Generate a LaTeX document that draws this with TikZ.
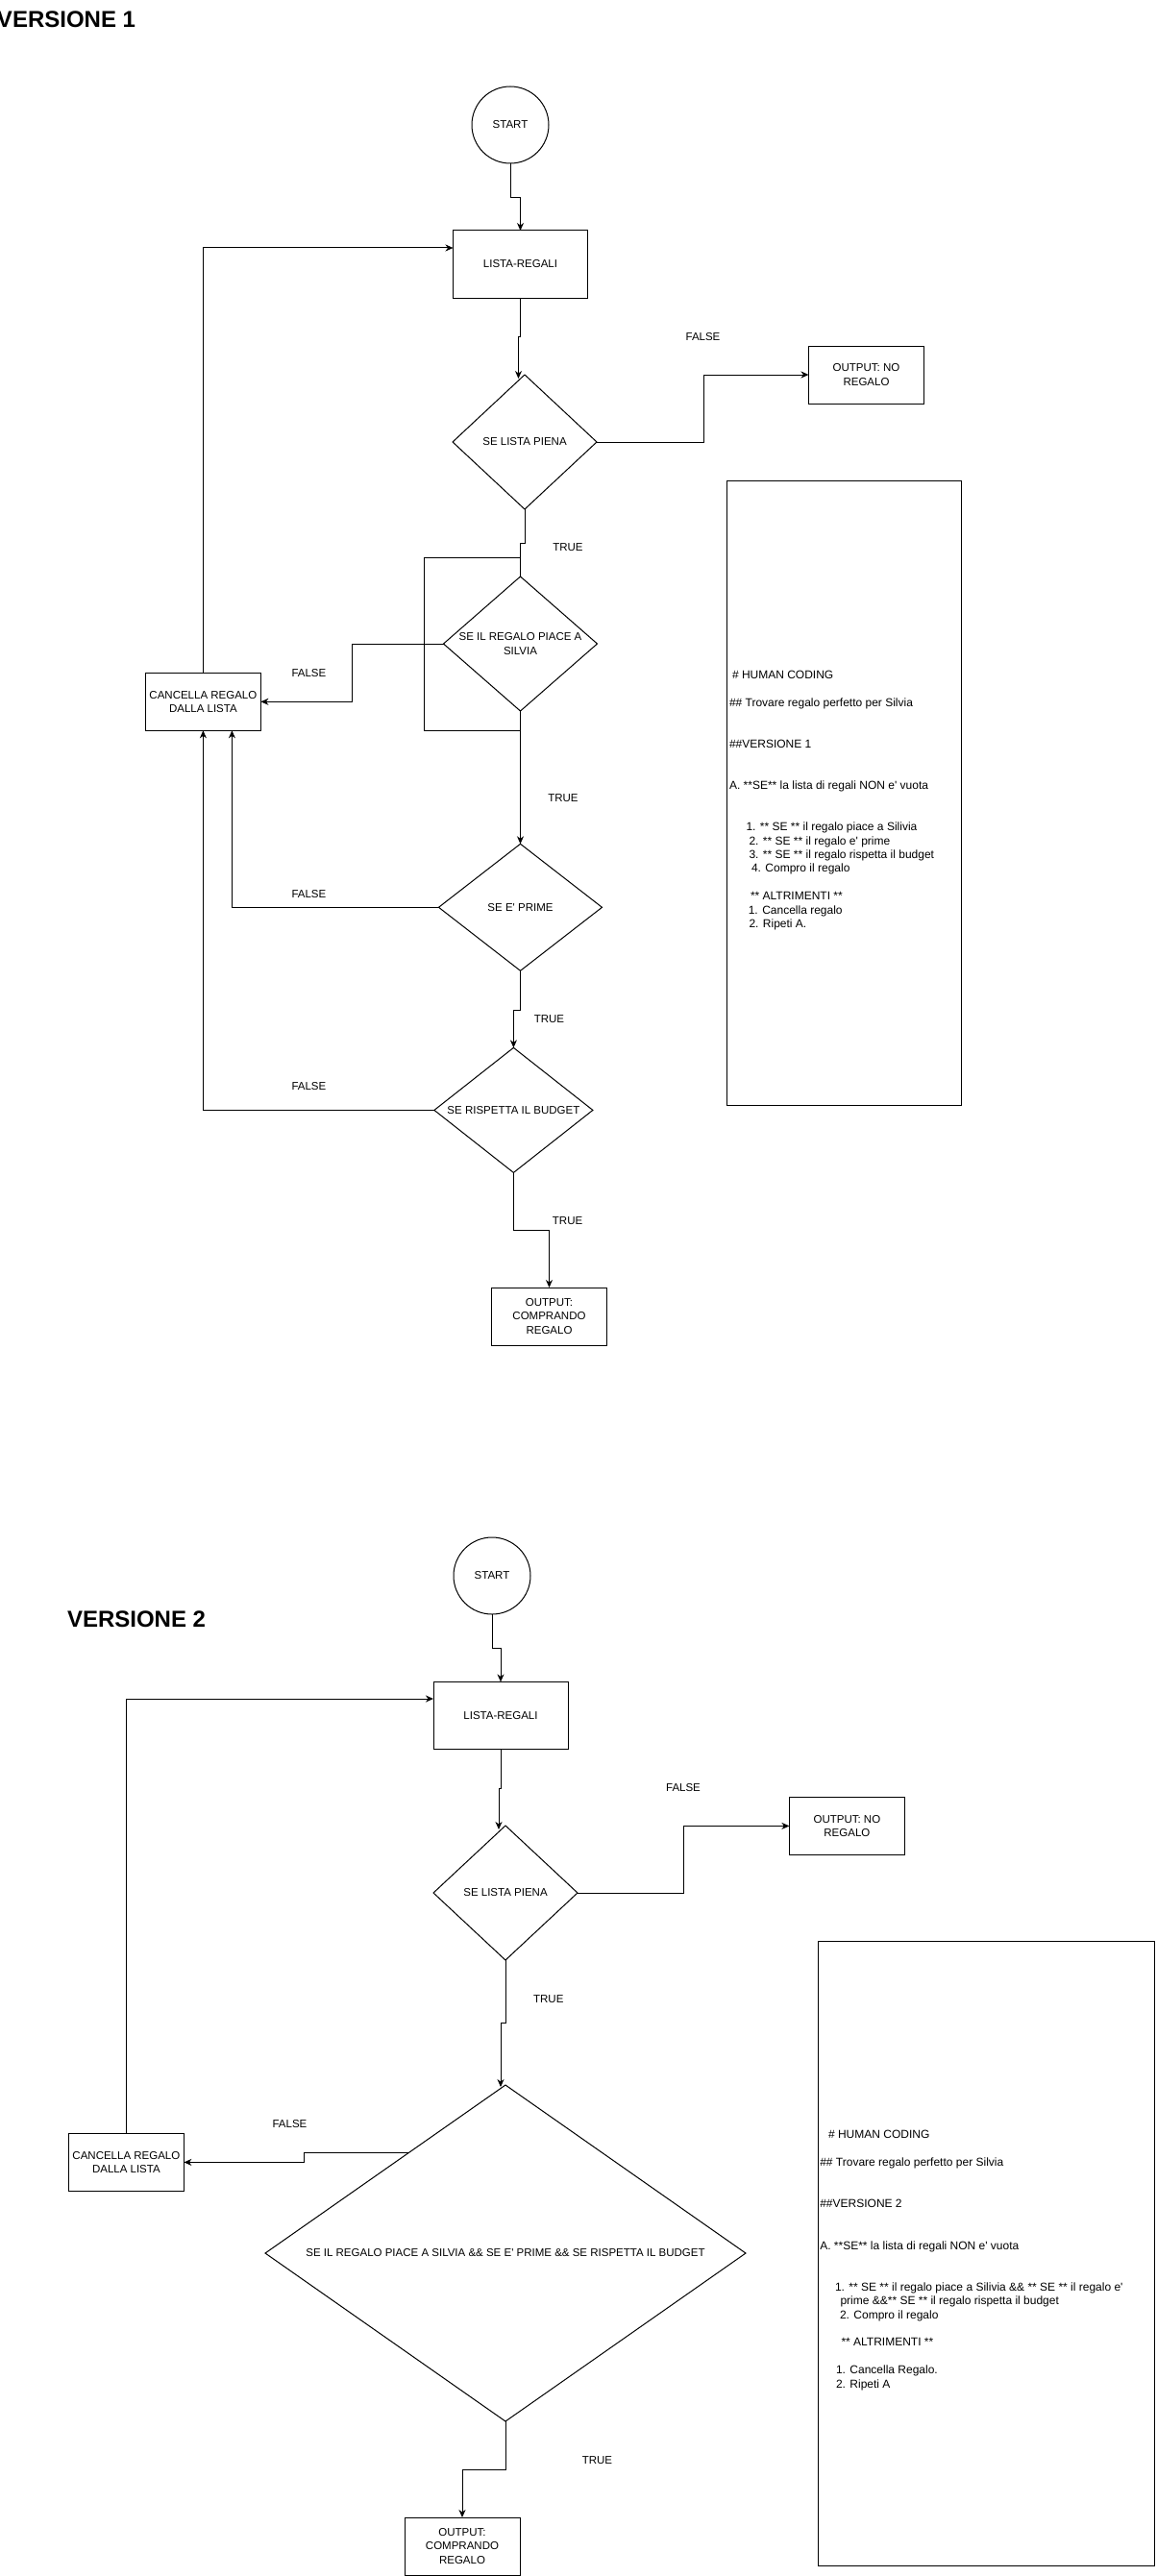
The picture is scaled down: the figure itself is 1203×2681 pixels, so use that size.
\documentclass[tikz,border=0pt]{standalone}
\usepackage{fontspec}
\setmainfont{Liberation Sans}
\usetikzlibrary{arrows.meta,shapes.geometric,calc}
\newcommand{\myapos}{\textquotesingle}
\begin{document}
\begin{tikzpicture}[x=1pt,y=-1pt,
  every node/.style={inner sep=0pt, outer sep=0pt},
  lblfont/.style={font=\fontsize{11.5}{14.4}\selectfont},
  box/.style={draw, fill=white, line width=1pt, align=center, lblfont},
  term/.style={draw, fill=white, circle, line width=1pt, minimum size=80pt, lblfont},
  dia/.style={draw, fill=white, diamond, line width=1pt},
  lbl/.style={lblfont, align=center},
  con/.style={line width=1pt},
  arr/.style={con, -{Stealth[length=8pt,width=7pt,inset=2.5pt]}},
  txt/.style={anchor=base west, font=\fontsize{12}{14}\selectfont},
  ttl/.style={anchor=base west, font=\fontsize{24}{28}\selectfont\bfseries},
]
\path[use as bounding box, fill=white] (0,0) rectangle (1203,2681);

% ---------------- VERSIONE 1 ----------------
\node[ttl] (t1) at (-3,28.4) {VERSIONE 1};

\node[term] (s1) at (531,130) {START};
\node[box, minimum width=140pt, minimum height=70pt] (l1) at (541.5,275) {LISTA-REGALI};
\node[dia, minimum width=150pt, minimum height=140pt, label={[lbl]center:{SE LISTA PIENA}}] (d1) at (546,460) {};
\node[box, minimum width=120pt, minimum height=60pt] (o1) at (901.5,390) {OUTPUT: NO\\REGALO};
\node[draw, fill=white, line width=1pt, minimum width=100pt, minimum height=180pt] (r1) at (491.5,670) {};
\node[dia, minimum width=160pt, minimum height=140pt, label={[lbl]center:{SE IL REGALO PIACE A\\SILVIA}}] (d2) at (541.5,670) {};
\node[box, minimum width=120pt, minimum height=60pt] (c1) at (211.4,730.3) {CANCELLA REGALO\\DALLA LISTA};
\node[dia, minimum width=170pt, minimum height=132pt, label={[lbl]center:{SE E\myapos{} PRIME}}] (d3) at (541.5,944.3) {};
\node[dia, minimum width=165pt, minimum height=130pt, label={[lbl]center:{SE RISPETTA IL BUDGET}}] (d4) at (534.4,1155.4) {};
\node[box, minimum width=120pt, minimum height=60pt] (o2) at (571.5,1370) {OUTPUT:\\COMPRANDO\\REGALO};

\draw[arr] (s1.south) -- ++(0,35.5) -| (l1.north);
\draw[arr] (l1.south) -- ++(0,40) -| ($(d1.north)+(-6.5,4)$);
\draw[arr] (d1.east) -- ++(111,0) |- (o1.west);
\draw[con] (d1.south) -- ++(0,35.5) -| (d2.north);
\draw[arr] (d2.south) -- (d3.north);
\draw[arr] (d2.west) -- ++(-95.5,0) |- (c1.east);
\draw[arr] (d3.west) -| ($(c1.south)+(30,0)$);
\draw[arr] (d4.west) -| (c1.south);
\draw[arr] (c1.north) |- ($(l1.west)+(0,-17)$);
\draw[arr] (d3.south) -- ++(0,40.7) -| (d4.north);
\draw[arr] (d4.south) -- ++(0,60) -| (o2.north);

\node[lbl] (f1) at (731.5,350.5) {FALSE};
\node[lbl] (v1) at (591,570) {TRUE};
\node[lbl] (f2) at (321.4,700.7) {FALSE};
\node[lbl] (v2) at (586,830.7) {TRUE};
\node[lbl] (f3) at (321.4,930.7) {FALSE};
\node[lbl] (v3) at (571.4,1060.7) {TRUE};
\node[lbl] (f4) at (321.4,1130.7) {FALSE};
\node[lbl] (v4) at (590.6,1270.7) {TRUE};

% text box 1
\node[draw, fill=white, line width=1pt, minimum width=244pt, minimum height=650pt] (tb1) at (878.5,825) {};
\node[txt] (a1) at (762,706.3) {\# HUMAN CODING};
\node[txt] (a2) at (759,735.1) {\#\# Trovare regalo perfetto per Silvia};
\node[txt] (a3) at (759,778.3) {\#\#VERSIONE 1};
\node[txt] (a4) at (759,821.5) {A. **SE** la lista di regali NON e\myapos{} vuota};
\node[txt] (a5) at (776.5,864.7) {1. ** SE ** il regalo piace a Silivia};
\node[txt] (a6) at (779.5,879.1) {2. ** SE ** il regalo e\myapos{} prime};
\node[txt] (a7) at (779.5,893.5) {3. ** SE ** il regalo rispetta il budget};
\node[txt] (a8) at (782,907.9) {4. Compro il regalo};
\node[txt] (a9) at (781,936.7) {** ALTRIMENTI **};
\node[txt] (a10) at (778.8,951.1) {1. Cancella regalo};
\node[txt] (a11) at (779.5,965.5) {2. Ripeti A.};

% ---------------- VERSIONE 2 ----------------
\node[ttl] (t2) at (70,1693.5) {VERSIONE 2};

\node[term] (s2) at (512,1640) {START};
\node[box, minimum width=140pt, minimum height=70pt] (l2) at (521,1785.4) {LISTA-REGALI};
\node[dia, minimum width=150pt, minimum height=140pt, label={[lbl]center:{SE LISTA PIENA}}] (d5) at (526,1970) {};
\node[box, minimum width=120pt, minimum height=60pt] (o3) at (881.4,1900.4) {OUTPUT: NO\\REGALO};
\node[dia, minimum width=500pt, minimum height=350pt, label={[lbl]center:{SE IL REGALO PIACE A SILVIA \&\& SE E\myapos{} PRIME \&\& SE RISPETTA IL BUDGET}}] (d6) at (526,2345) {};
\node[box, minimum width=120pt, minimum height=60pt] (c2) at (131.4,2250.4) {CANCELLA REGALO\\DALLA LISTA};
\node[box, minimum width=120pt, minimum height=60pt] (o4) at (481,2650) {OUTPUT:\\COMPRANDO\\REGALO};

\draw[arr] (s2.south) -- ++(0,35.7) -| (l2.north);
\draw[arr] (l2.south) -- ++(0,40.6) -| ($(d5.north)+(-7,4)$);
\draw[arr] (d5.east) -- ++(110,0) |- (o3.west);
\draw[arr] (d5.south) -- ++(0,65) -| ($(d6.north)+(-5,2)$);
\draw[arr] ($(d6.north)!0.4!(d6.west)$) -- ++(-109.7,0) |- (c2.east);
\draw[arr] (d6.south) -- ++(0,50) -| (o4.north);
\draw[arr] (c2.north) |- ($(l2.west)+(0,-17.4)$);

\node[lbl] (f5) at (711,1861) {FALSE};
\node[lbl] (v5) at (570.8,2080.7) {TRUE};
\node[lbl] (f6) at (301.5,2210.5) {FALSE};
\node[lbl] (v6) at (621.4,2560.8) {TRUE};

% text box 2
\node[draw, fill=white, line width=1pt, minimum width=350pt, minimum height=650pt] (tb2) at (1026.5,2345) {};
\node[txt] (b1) at (862,2225.8) {\# HUMAN CODING};
\node[txt] (b2) at (853.3,2254.6) {\#\# Trovare regalo perfetto per Silvia};
\node[txt] (b3) at (853.3,2297.8) {\#\#VERSIONE 2};
\node[txt] (b4) at (853.3,2341) {A. **SE** la lista di regali NON e\myapos{} vuota};
\node[txt] (b5) at (869,2384.2) {1. ** SE ** il regalo piace a Silivia \&\& ** SE ** il regalo e\myapos};
\node[txt] (b6) at (874.5,2398.6) {prime \&\&** SE ** il regalo rispetta il budget};
\node[txt] (b7) at (874,2413) {2. Compro il regalo};
\node[txt] (b8) at (875.5,2441.8) {** ALTRIMENTI **};
\node[txt] (b9) at (870,2470.6) {1. Cancella Regalo.};
\node[txt] (b10) at (870,2485) {2. Ripeti A};
\end{tikzpicture}
\end{document}
